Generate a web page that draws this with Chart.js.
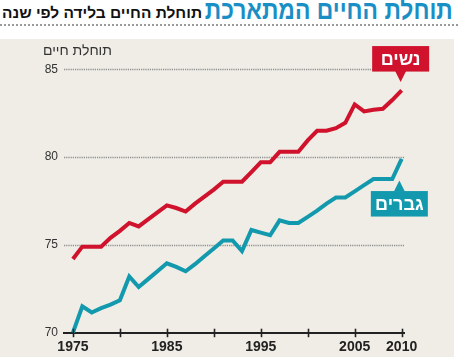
<!DOCTYPE html>
<html><head><meta charset="utf-8">
<script src="https://cdn.jsdelivr.net/npm/chart.js@4"></script>
<style>
html,body{margin:0;padding:0;background:#fff;}
#wrap{position:relative;width:458px;height:357px;overflow:hidden;}
#bg{position:absolute;left:0;top:39px;width:454px;height:318px;background:#EFEDE5;}
#rule{position:absolute;left:0;top:24px;width:458px;height:0;border-top:2px dotted #9a9a9a;}
#t1{position:absolute;right:5px;top:-3px;font:bold 27px/27px "Liberation Sans",sans-serif;color:#1A8FC6;direction:rtl;white-space:nowrap;transform-origin:right top;}
#t2{position:absolute;left:2px;top:5px;font:bold 15px/15px "Liberation Sans",sans-serif;color:#111;direction:rtl;white-space:nowrap;transform-origin:left top;}
canvas{position:absolute;left:0;top:0;}
</style></head>
<body>
<div id="wrap">
  <div id="bg"></div>
  <div id="rule"></div>
  <div id="t1">תוחלת החיים המתארכת</div>
  <div id="t2">תוחלת החיים בלידה לפי שנה</div>
  <canvas id="c" width="458" height="357"></canvas>
</div>
<script>
const years = [1975,1976,1977,1978,1979,1980,1981,1982,1983,1984,1985,1986,1987,1988,1989,1990,1991,1992,1993,1994,1995,1996,1997,1998,1999,2000,2001,2002,2003,2004,2005,2006,2007,2008,2009,2010];
const women = [74.2,74.9,74.9,74.9,75.4,75.8,76.25,76.05,76.45,76.85,77.25,77.1,76.9,77.35,77.75,78.15,78.6,78.6,78.6,79.15,79.7,79.7,80.3,80.3,80.3,80.95,81.5,81.5,81.65,81.95,83.0,82.6,82.7,82.75,83.25,83.8];
const men = [70.0,71.5,71.15,71.4,71.6,71.85,73.2,72.6,73.05,73.5,73.95,73.75,73.5,73.9,74.35,74.8,75.25,75.25,74.65,75.85,75.7,75.55,76.4,76.25,76.25,76.6,76.95,77.35,77.7,77.7,78.05,78.4,78.75,78.75,78.75,79.9];
const seriesNames = ['נשים','גברים'];
const xTickValues = [1975,1980,1985,1990,1995,2000,2005,2010];
const xTickLabels = ['1975','','1985','','1995','','2005','2010'];
const yTickValues = [70,75,80,85];
const yAxisTitle = 'תוחלת חיים';

const RED = '#D0122C', TEAL = '#1399AE';

// fit header texts to their widths in the reference
function fitWidth(id, target){
  const el = document.getElementById(id);
  const w = el.getBoundingClientRect().width;
  if (w > 0) el.style.transform = 'scaleX(' + (target / w) + ')';
}
fitWidth('t1', 248);
fitWidth('t2', 200);

const decor = {
  id:'decor',
  beforeDatasetsDraw(chart){
    const {ctx, chartArea:a, scales:{x,y}} = chart;
    ctx.save();
    ctx.strokeStyle = '#8e8e8e';
    ctx.lineWidth = 1.6;
    ctx.setLineDash([1.2,1]);
    yTickValues.forEach(v=>{
      if (v === y.min) return;
      const py = Math.round(y.getPixelForValue(v)) + 0.5;
      ctx.beginPath(); ctx.moveTo(a.left, py); ctx.lineTo(a.right, py); ctx.stroke();
    });
    ctx.setLineDash([]);
    ctx.fillStyle = '#333';
    ctx.font = '14px "Liberation Sans", sans-serif';
    ctx.textAlign = 'left'; ctx.textBaseline = 'middle';
    ctx.fillText(yAxisTitle, a.left - 21, y.getPixelForValue(85) - 18);
    ctx.restore();
  },
  afterDraw(chart){
    const {ctx, chartArea:a, scales:{x,y}} = chart;
    ctx.save();
    ctx.strokeStyle = '#222'; ctx.lineWidth = 1.6;
    xTickValues.forEach(v=>{
      const px = Math.round(x.getPixelForValue(v)) + 0.5;
      ctx.beginPath(); ctx.moveTo(px, a.bottom - 4); ctx.lineTo(px, a.bottom + 4.5); ctx.stroke();
    });
    const drawTag = (idx, color, above) => {
      const ds = chart.data.datasets[idx];
      const last = ds.data[ds.data.length-1];
      const px = x.getPixelForValue(last.x), py = y.getPixelForValue(last.y);
      const w = 57, h = 25.5, tri = 10.5, half = 5.5;
      let ax, ay, top;
      if (above) { ax = px - 1; ay = py - 8.3; top = ay - tri - h; }
      else { ax = px - 2.3; ay = py + 21.7; top = ay + tri; }
      ctx.fillStyle = color;
      ctx.fillRect(ax - w/2, top, w, h);
      ctx.beginPath();
      if (above) { ctx.moveTo(ax-half, top+h-0.5); ctx.lineTo(ax+half, top+h-0.5); ctx.lineTo(ax, ay); }
      else { ctx.moveTo(ax-half, top+0.5); ctx.lineTo(ax+half, top+0.5); ctx.lineTo(ax, ay); }
      ctx.closePath(); ctx.fill();
      ctx.fillStyle = '#fff';
      ctx.font = 'bold 18px "Liberation Sans", sans-serif';
      ctx.textAlign = 'center'; ctx.textBaseline = 'middle';
      ctx.fillText(seriesNames[idx], ax, top + h/2 + 1);
    };
    drawTag(0, RED, true);
    drawTag(1, TEAL, false);
    ctx.restore();
  }
};

new Chart(document.getElementById('c'), {
  type:'line',
  data:{ datasets:[
    {label:seriesNames[0], data: years.map((yr,i)=>({x:yr,y:women[i]})), borderColor:RED, borderWidth:4, pointRadius:0, tension:0, clip:false, borderCapStyle:'butt'},
    {label:seriesNames[1], data: years.map((yr,i)=>({x:yr,y:men[i]})), borderColor:TEAL, borderWidth:4, pointRadius:0, tension:0, clip:false, borderCapStyle:'butt'}
  ]},
  options:{
    responsive:false, animation:false, events:[],
    layout:{padding:{left:0,right:54,top:69.3,bottom:0}},
    plugins:{legend:{display:false}, tooltip:{enabled:false}, title:{display:false}},
    scales:{
      x:{type:'linear', min:1974.05, max:2010.25,
         afterBuildTicks: s=>{ s.ticks = xTickValues.map(v=>({value:v})); },
         afterFit: s=>{ s.height = 24.3; },
         ticks:{autoSkip:false, maxRotation:0, padding:6, color:'#222',
                font:{family:'"Liberation Sans Narrow", "Liberation Sans", sans-serif', size:14, weight:'bold'},
                callback:(v)=>{ const i = xTickValues.indexOf(v); return i>=0 ? xTickLabels[i] : ''; }},
         grid:{display:false, drawTicks:false},
         border:{display:true, color:'#222', width:2}},
      y:{min:70, max:85,
         afterBuildTicks: s=>{ s.ticks = yTickValues.map(v=>({value:v})); },
         afterFit: s=>{ s.width = 64; },
         ticks:{padding:6, color:'#333', font:{family:'"Liberation Sans", sans-serif', size:12}},
         grid:{display:false, drawTicks:false},
         border:{display:false}}
    }
  },
  plugins:[decor]
});
</script>
</body></html>
